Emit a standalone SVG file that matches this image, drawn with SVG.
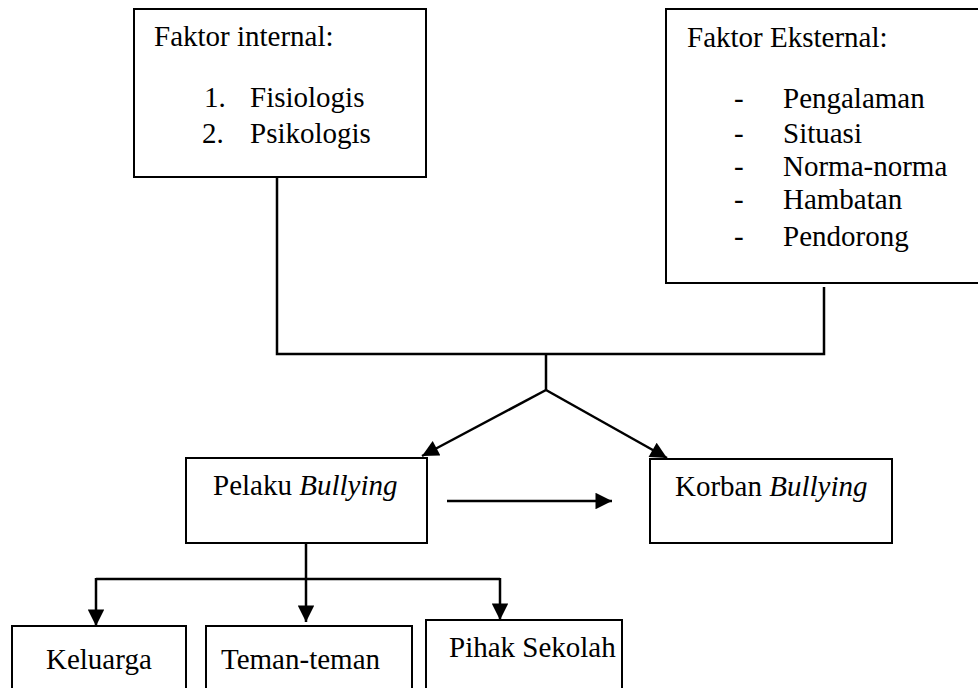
<svg xmlns="http://www.w3.org/2000/svg" width="978" height="688" viewBox="0 0 978 688">
  <style>
    .box { fill: #fff; stroke: #000; stroke-width: 2; }
    .ln { fill: none; stroke: #000; stroke-width: 2.5; }
    text { font-family: "Liberation Serif", "Times New Roman", serif; font-size: 29px; fill: #000; }
    .it { font-style: italic; }
  </style>
  <defs>
    <marker id="arrow" viewBox="0 0 10 10" refX="10" refY="5" markerWidth="7" markerHeight="6.6" markerUnits="strokeWidth" orient="auto">
      <path d="M0,0 L10,5 L0,10 Z" fill="#000"/>
    </marker>
  </defs>
  <rect width="978" height="688" fill="#fff"/>

  <!-- connectors -->
  <g id="connectors">
    <!-- both factor boxes join into one trunk -->
    <polyline class="ln" points="277,177 277,354 824,354 824,287"/>
    <line class="ln" x1="546" y1="354" x2="546" y2="390"/>
    <line class="ln" x1="546" y1="390" x2="422" y2="456" marker-end="url(#arrow)"/>
    <line class="ln" x1="546" y1="390" x2="667" y2="458" marker-end="url(#arrow)"/>
    <line class="ln" x1="447" y1="501" x2="612" y2="501" marker-end="url(#arrow)"/>
    <!-- branches under Pelaku -->
    <line class="ln" x1="306" y1="543" x2="306" y2="622" marker-end="url(#arrow)"/>
    <line class="ln" x1="96" y1="579" x2="500" y2="579"/>
    <line class="ln" x1="96" y1="578" x2="96" y2="626" marker-end="url(#arrow)"/>
    <line class="ln" x1="500" y1="578" x2="500" y2="620" marker-end="url(#arrow)"/>
  </g>

  <g id="faktor-internal">
    <rect class="box" x="134" y="9" width="292" height="168"/>
    <text x="154" y="46">Faktor internal:</text>
    <text x="204" y="107">1.</text>
    <text x="250" y="107">Fisiologis</text>
    <text x="202" y="143" font-size="31">2.</text>
    <text x="250" y="143">Psikologis</text>
  </g>

  <g id="faktor-eksternal">
    <rect class="box" x="666" y="9" width="330" height="274"/>
    <text x="687" y="47">Faktor Eksternal:</text>
    <text x="734" y="108">-</text><text x="783" y="108">Pengalaman</text>
    <text x="734" y="143">-</text><text x="783" y="143">Situasi</text>
    <text x="734" y="176">-</text><text x="783" y="176">Norma-norma</text>
    <text x="734" y="209">-</text><text x="783" y="209">Hambatan</text>
    <text x="734" y="246">-</text><text x="783" y="246">Pendorong</text>
  </g>

  <g id="pelaku">
    <rect class="box" x="186" y="458" width="241" height="85"/>
    <text x="213" y="495">Pelaku <tspan class="it">Bullying</tspan></text>
  </g>

  <g id="korban">
    <rect class="box" x="650" y="459" width="242" height="84"/>
    <text x="675" y="496">Korban <tspan class="it">Bullying</tspan></text>
  </g>

  <g id="keluarga">
    <rect class="box" x="12" y="626" width="174" height="80"/>
    <text x="46" y="669">Keluarga</text>
  </g>

  <g id="teman-teman">
    <rect class="box" x="206" y="626" width="206" height="80"/>
    <text x="221" y="669">Teman-teman</text>
  </g>

  <g id="pihak-sekolah">
    <rect class="box" x="426" y="620" width="196" height="86"/>
    <text x="449" y="657">Pihak Sekolah</text>
  </g>
</svg>
